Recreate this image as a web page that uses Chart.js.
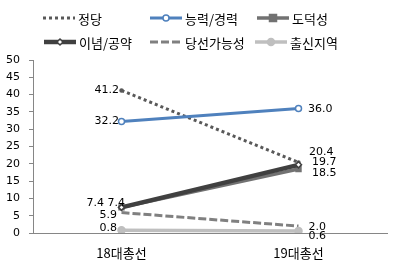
<!DOCTYPE html>
<html><head><meta charset="utf-8">
<script src="https://cdn.jsdelivr.net/npm/chart.js@4/dist/chart.umd.min.js"></script>
<style>html,body{margin:0;padding:0;background:#fff;}canvas{display:block;}</style>
</head><body>
<canvas id="c" width="400" height="266"></canvas>
<script>
const categories = ['18대총선', '19대총선'];
const seriesNames = ['정당', '능력/경력', '도덕성', '이념/공약', '당선가능성', '출신지역'];
const party = [41.2, 20.4];
const ability = [32.2, 36.0];
const morality = [7.4, 18.5];
const ideology = [7.4, 19.7];
const electability = [5.9, 2.0];
const origin = [0.8, 0.6];
const yTicks = [0, 5, 10, 15, 20, 25, 30, 35, 40, 45, 50];

const NUM_FONT = '11px "DejaVu Sans"';
const KR_FONT = '"Noto Sans CJK KR"';

// style of each series (not data)
const styles = [
  {color:'#595959', width:3, dash:[3,3], point:'circle', r:1.5, fill:'#595959'},
  {color:'#4F81BD', width:3, dash:[], point:'circle', r:3, fill:'#ffffff'},
  {color:'#727272', width:3.5, dash:[], point:'rect', r:3.5, fill:'#727272'},
  {color:'#404040', width:4.5, dash:[], point:'rectRot', r:3, fill:'#ffffff'},
  {color:'#808080', width:3, dash:[8,3], point:'circle', r:0, fill:'#808080'},
  {color:'#BFBFBF', width:3.5, dash:[], point:'circle', r:3.5, fill:'#BFBFBF'}
];
// label placement: side L = right-aligned ending at point.x+dx; R = left-aligned starting at point.x+dx
const labelPlace = [
  [{s:'L',dx:-2.5,dy:0},{s:'R',dx:10.5,dy:-10}],
  [{s:'L',dx:-2.5,dy:0},{s:'R',dx:9.5,dy:0.5}],
  [{s:'L',dx:-17.5,dy:-4.5},{s:'R',dx:13.5,dy:4}],
  [{s:'L',dx:3.5,dy:-4.5},{s:'R',dx:13.5,dy:-3}],
  [{s:'L',dx:-4.5,dy:2.5},{s:'R',dx:10,dy:1}],
  [{s:'L',dx:-4.5,dy:-2},{s:'R',dx:10,dy:5.5}]
];
const legendPos = [
  {x:43,y:18},{x:150,y:18},{x:257,y:18},
  {x:44,y:42},{x:150,y:42},{x:255,y:42}
];

const values = [party, ability, morality, ideology, electability, origin];
const datasets = values.map((v,i)=>({
  label: seriesNames[i],
  data: v,
  borderColor: styles[i].color,
  backgroundColor: styles[i].fill,
  borderWidth: styles[i].width,
  borderDash: styles[i].dash,
  pointStyle: styles[i].point,
  pointRadius: styles[i].r,
  pointBorderColor: styles[i].color,
  pointBackgroundColor: styles[i].fill,
  pointBorderWidth: 1.5,
  tension: 0,
  fill: false,
  order: 6 - i
}));

const labelPlugin = {
  id:'labels',
  afterDatasetsDraw(chart){
    const ctx = chart.ctx;
    ctx.save();
    ctx.font = NUM_FONT;
    ctx.fillStyle = '#000';
    ctx.textBaseline = 'middle';
    chart.data.datasets.forEach((ds,i)=>{
      const meta = chart.getDatasetMeta(i);
      meta.data.forEach((pt,j)=>{
        const p = labelPlace[i][j];
        ctx.textAlign = p.s === 'L' ? 'right' : 'left';
        ctx.fillText(ds.data[j].toFixed(1), pt.x + p.dx, pt.y + p.dy);
      });
    });
    ctx.restore();
  }
};

const legendPlugin = {
  id:'customLegend',
  afterDraw(chart){
    const ctx = chart.ctx;
    ctx.save();
    chart.data.datasets.forEach((ds,i)=>{
      const st = styles[i], lp = legendPos[i];
      ctx.strokeStyle = st.color;
      ctx.lineWidth = st.width;
      ctx.setLineDash(st.dash);
      ctx.beginPath();
      ctx.moveTo(lp.x, lp.y); ctx.lineTo(lp.x+32, lp.y);
      ctx.stroke();
      ctx.setLineDash([]);
      if (st.r > 0 && i !== 0) {
        ctx.fillStyle = st.fill; ctx.strokeStyle = st.color; ctx.lineWidth = 1.5;
        ctx.beginPath();
        const cx = lp.x+16, cy = lp.y, r = st.r;
        if (st.point === 'circle') { ctx.arc(cx, cy, r, 0, Math.PI*2); }
        else if (st.point === 'rect') { ctx.rect(cx-r, cy-r, 2*r, 2*r); }
        else { ctx.moveTo(cx, cy-r); ctx.lineTo(cx+r, cy); ctx.lineTo(cx, cy+r); ctx.lineTo(cx-r, cy); ctx.closePath(); }
        ctx.fill(); ctx.stroke();
      }
      ctx.fillStyle = '#000';
      ctx.font = '13px ' + KR_FONT;
      ctx.textAlign = 'left';
      ctx.textBaseline = 'middle';
      ctx.fillText(ds.label, lp.x+35, lp.y+1.5);
    });
    ctx.restore();
  }
};

new Chart(document.getElementById('c'), {
  type:'line',
  data:{labels:categories, datasets},
  options:{
    responsive:false,
    animation:false,
    devicePixelRatio:1,
    layout:{padding:{top:60, right:13, bottom:5, left:0}},
    plugins:{legend:{display:false}, tooltip:{enabled:false}},
    scales:{
      x:{
        offset:true,
        afterFit(scale){ scale.height = 28; },
        grid:{display:false, drawTicks:false},
        border:{display:true, color:'#868686', width:1},
        ticks:{color:'#000', font:{family:'Noto Sans CJK KR', size:13}, padding:12}
      },
      y:{
        min:0, max:50,
        afterBuildTicks(scale){ scale.ticks = yTicks.map(v=>({value:v})); },
        afterFit(scale){ scale.width = 33; },
        grid:{display:true, drawOnChartArea:false, drawTicks:true, tickLength:4, color:'#868686'},
        border:{display:true, color:'#868686', width:1},
        ticks:{color:'#000', font:{family:'DejaVu Sans', size:11}, padding:9, autoSkip:false, stepSize:5}
      }
    }
  },
  plugins:[labelPlugin, legendPlugin]
});
</script>
</body></html>
